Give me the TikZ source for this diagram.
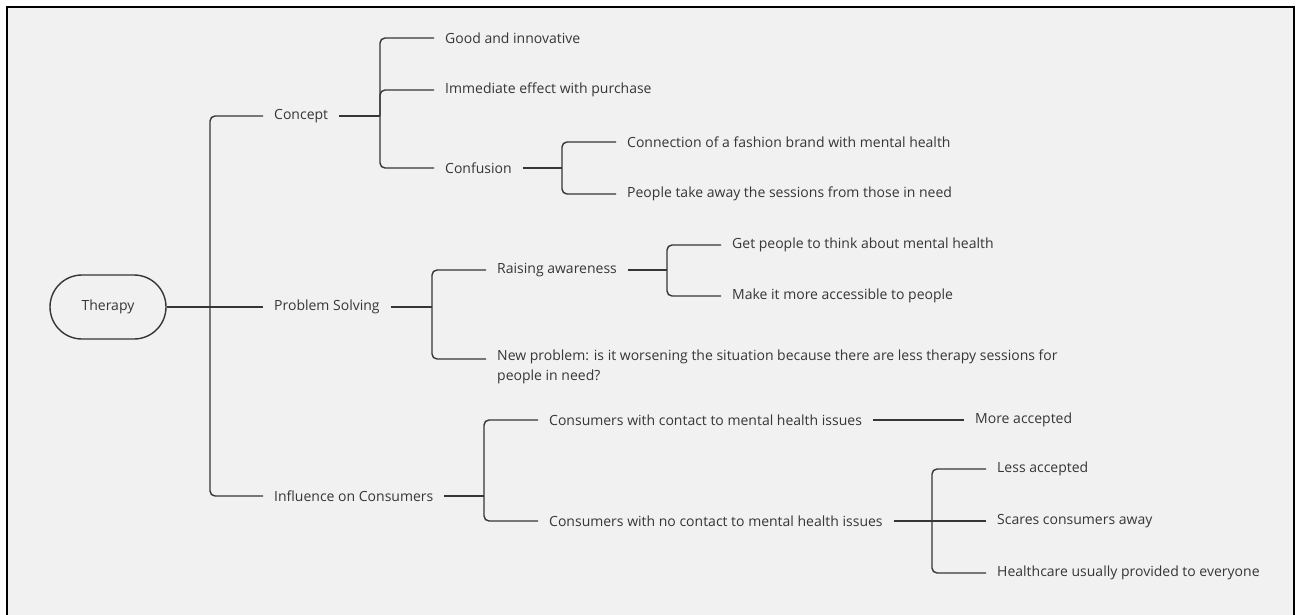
\documentclass[tikz,border=0pt]{standalone}
\usepackage{fontspec}
\setmainfont{Open Sans}
\definecolor{bg}{HTML}{F1F1F1}
\definecolor{ink}{HTML}{363636}
\begin{document}
\begin{tikzpicture}[x=1pt,y=-1pt,
  txt/.style={anchor=west,inner xsep=11pt,inner ysep=2pt,text=ink,font=\fontsize{14}{20}\selectfont},
  conn/.style={draw=ink,line width=1.4pt,rounded corners=5pt},
  root/.style={draw=ink,line width=1.4pt,rounded corners=32pt,minimum width=116pt,minimum height=64pt,text=ink,font=\fontsize{14}{20}\selectfont}]
\useasboundingbox (0,0) rectangle (1301,615);
\fill[white] (0,0) rectangle (1301,615);
\fill[bg] (7,7) rectangle (1294,615);
\draw[black,line width=2.5pt] (7,615) -- (7,7) -- (1294,7) -- (1294,615);

% nodes
\node[root] (therapy) at (108,307) {Therapy};
\node[txt] (concept) at (263,116) {Concept};
\node[txt] (problem) at (263,307) {Problem Solving};
\node[txt] (influence) at (263,496) {Influence on Consumers};
\node[txt] (good) at (434,38) {Good and innovative};
\node[txt] (immediate) at (434,90) {Immediate effect with purchase};
\node[txt] (confusion) at (434,168) {Confusion};
\node[txt] (connection) at (616,142) {Connection of a fashion brand with mental health};
\node[txt] (people) at (616,194) {People take away the sessions from those in need};
\node[txt] (raising) at (486,270) {Raising awareness};
\coordinate (newpin) at (486,359);
\node[anchor=north west,inner sep=0pt,align=left,text=ink,font=\fontsize{14}{20}\selectfont] (newp) at (497,349.5) {New problem: is it worsening the situation because there are less therapy sessions for\\people in need?};
\node[txt] (getpeople) at (721,245) {Get people to think about mental health};
\node[txt] (make) at (721,296) {Make it more accessible to people};
\node[txt] (cwith) at (538,420) {Consumers with contact to mental health issues};
\node[txt] (cno) at (538,521) {Consumers with no contact to mental health issues};
\node[txt] (more) at (964,420) {More accepted};
\node[txt] (less) at (986,469) {Less accepted};
\node[txt] (scares) at (986,521) {Scares consumers away};
\node[txt] (health) at (986,573) {Healthcare usually provided to everyone};

% junctions
\coordinate (jt) at (210,307);
\coordinate (jc) at (380,116);
\coordinate (jconf) at (562,168);
\coordinate (jp) at (432,307);
\coordinate (jr) at (667,270);
\coordinate (ji) at (484,496);
\coordinate (jno) at (932,521);

% connectors
\draw[conn] (therapy.east) -- (jt);
\draw[conn] (jt) |- (concept.west);
\draw[conn] (jt) -- (problem.west);
\draw[conn] (jt) |- (influence.west);

\draw[conn] (concept.east) -- (jc);
\draw[conn] (jc) |- (good.west);
\draw[conn] (jc) |- (immediate.west);
\draw[conn] (jc) |- (confusion.west);

\draw[conn] (confusion.east) -- (jconf);
\draw[conn] (jconf) |- (connection.west);
\draw[conn] (jconf) |- (people.west);

\draw[conn] (problem.east) -- (jp);
\draw[conn] (jp) |- (raising.west);
\draw[conn] (jp) |- (newpin);

\draw[conn] (raising.east) -- (jr);
\draw[conn] (jr) |- (getpeople.west);
\draw[conn] (jr) |- (make.west);

\draw[conn] (influence.east) -- (ji);
\draw[conn] (ji) |- (cwith.west);
\draw[conn] (ji) |- (cno.west);

\draw[conn] (cwith.east) -- (more.west);

\draw[conn] (cno.east) -- (jno);
\draw[conn] (jno) |- (less.west);
\draw[conn] (jno) -- (scares.west);
\draw[conn] (jno) |- (health.west);
\end{tikzpicture}
\end{document}
